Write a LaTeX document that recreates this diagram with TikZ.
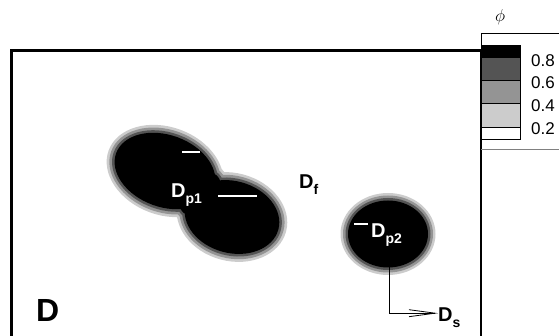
\documentclass[tikz,border=0pt]{standalone}
\usepackage{fontspec}
\setsansfont{Liberation Sans}
\usetikzlibrary{arrows.meta}
\definecolor{ringa}{gray}{0.80}
\definecolor{ringb}{gray}{0.58}
\definecolor{ringc}{gray}{0.33}
\newcommand\dsub[2]{#1\raisebox{-6pt}{\fontsize{14}{14}\selectfont #2}}
\begin{document}
\begin{tikzpicture}[x=1pt,y=-1pt,
  lab/.style={font=\sffamily\bfseries\fontsize{20}{20}\selectfont,inner sep=0pt,anchor=base west},
  num/.style={font=\sffamily\fontsize{17}{17}\selectfont,inner sep=0pt,anchor=west},
  lead/.style={white,line width=1.2pt},
  conn/.style={line width=.8pt,-{Straight Barb[length=26pt,width=7pt,line width=.8pt]}}]
  \useasboundingbox (0,0) rectangle (559,336);
  % domain
  \draw[line width=2.6pt] (11.3,337) |- (481,50.5) -- (481,337);
  % particle p1, rings from outside in
  \fill[ringa] (165,171) circle[x radius=60pt,y radius=44pt,rotate=-20];
  \fill[ringa] (232,217) circle[x radius=56pt,y radius=44pt,rotate=-15];
  \fill[ringa] (200,194) circle[x radius=25pt,y radius=33pt,rotate=-42];
  \fill[ringb] (165,171) circle[x radius=57.3pt,y radius=41.3pt,rotate=-20];
  \fill[ringb] (232,217) circle[x radius=53.3pt,y radius=41.3pt,rotate=-15];
  \fill[ringb] (200,194) circle[x radius=22.3pt,y radius=30.3pt,rotate=-42];
  \fill[ringc] (165,171) circle[x radius=54.6pt,y radius=38.6pt,rotate=-20];
  \fill[ringc] (232,217) circle[x radius=50.6pt,y radius=38.6pt,rotate=-15];
  \fill[ringc] (200,194) circle[x radius=19.6pt,y radius=27.6pt,rotate=-42];
  \fill[black] (165,171) circle[x radius=52pt,y radius=36pt,rotate=-20];
  \fill[black] (232,217) circle[x radius=48pt,y radius=36pt,rotate=-15];
  \fill[black] (200,194) circle[x radius=17pt,y radius=25pt,rotate=-42];
  % particle p2
  \fill[ringa] (388,234) circle[x radius=47.5pt,y radius=41pt];
  \fill[ringb] (388,234) circle[x radius=45pt,y radius=38.5pt];
  \fill[ringc] (388,234) circle[x radius=42.5pt,y radius=36pt];
  \fill[black] (388,234) circle[x radius=40pt,y radius=33.5pt];
  \draw[lead] (182,152)--(200,152); \draw[lead] (218,196)--(257,196);
  \draw[lead] (354,224)--(368,224);
  % labels
  \node[lab,font=\sffamily\bfseries\fontsize{32}{32}\selectfont] (dom) at (36,321) {D};
  \node[lab] (df) at (299,189) {\dsub{D}{f}};
  \node[lab,white] (dp1) at (171,198) {\dsub{D}{p1}};
  \node[lab,white] (dp2) at (371,238) {\dsub{D}{p2}};
  \node[lab] (ds) at (438,321) {\dsub{D}{s}};
  \coordinate (p2b) at (389,267);
  \draw[conn] (p2b) |- ([yshift=4pt]ds.west);
  % legend
  \draw[line width=.6pt] (481,50) |- (559,33);
  \draw[gray,line width=.8pt] (481,149) -- (559,149);
  \filldraw[fill=black,line width=.6pt] (481,45) rectangle (520,57);
  \filldraw[fill=ringc,line width=.6pt] (481,57) rectangle (520,80);
  \filldraw[fill=ringb,line width=.6pt] (481,80) rectangle (520,103);
  \filldraw[fill=ringa,line width=.6pt] (481,103) rectangle (520,127);
  \filldraw[fill=white,line width=.6pt] (481,127) rectangle (520,139);
  \node (phi) at (500,17) {\fontsize{18}{18}\selectfont$\phi$};
  \node[num] (v8) at (531,61) {0.8}; \node[num] (v6) at (531,83) {0.6};
  \node[num] (v4) at (531,106) {0.4}; \node[num] (v2) at (531,129) {0.2};
\end{tikzpicture}
\end{document}
